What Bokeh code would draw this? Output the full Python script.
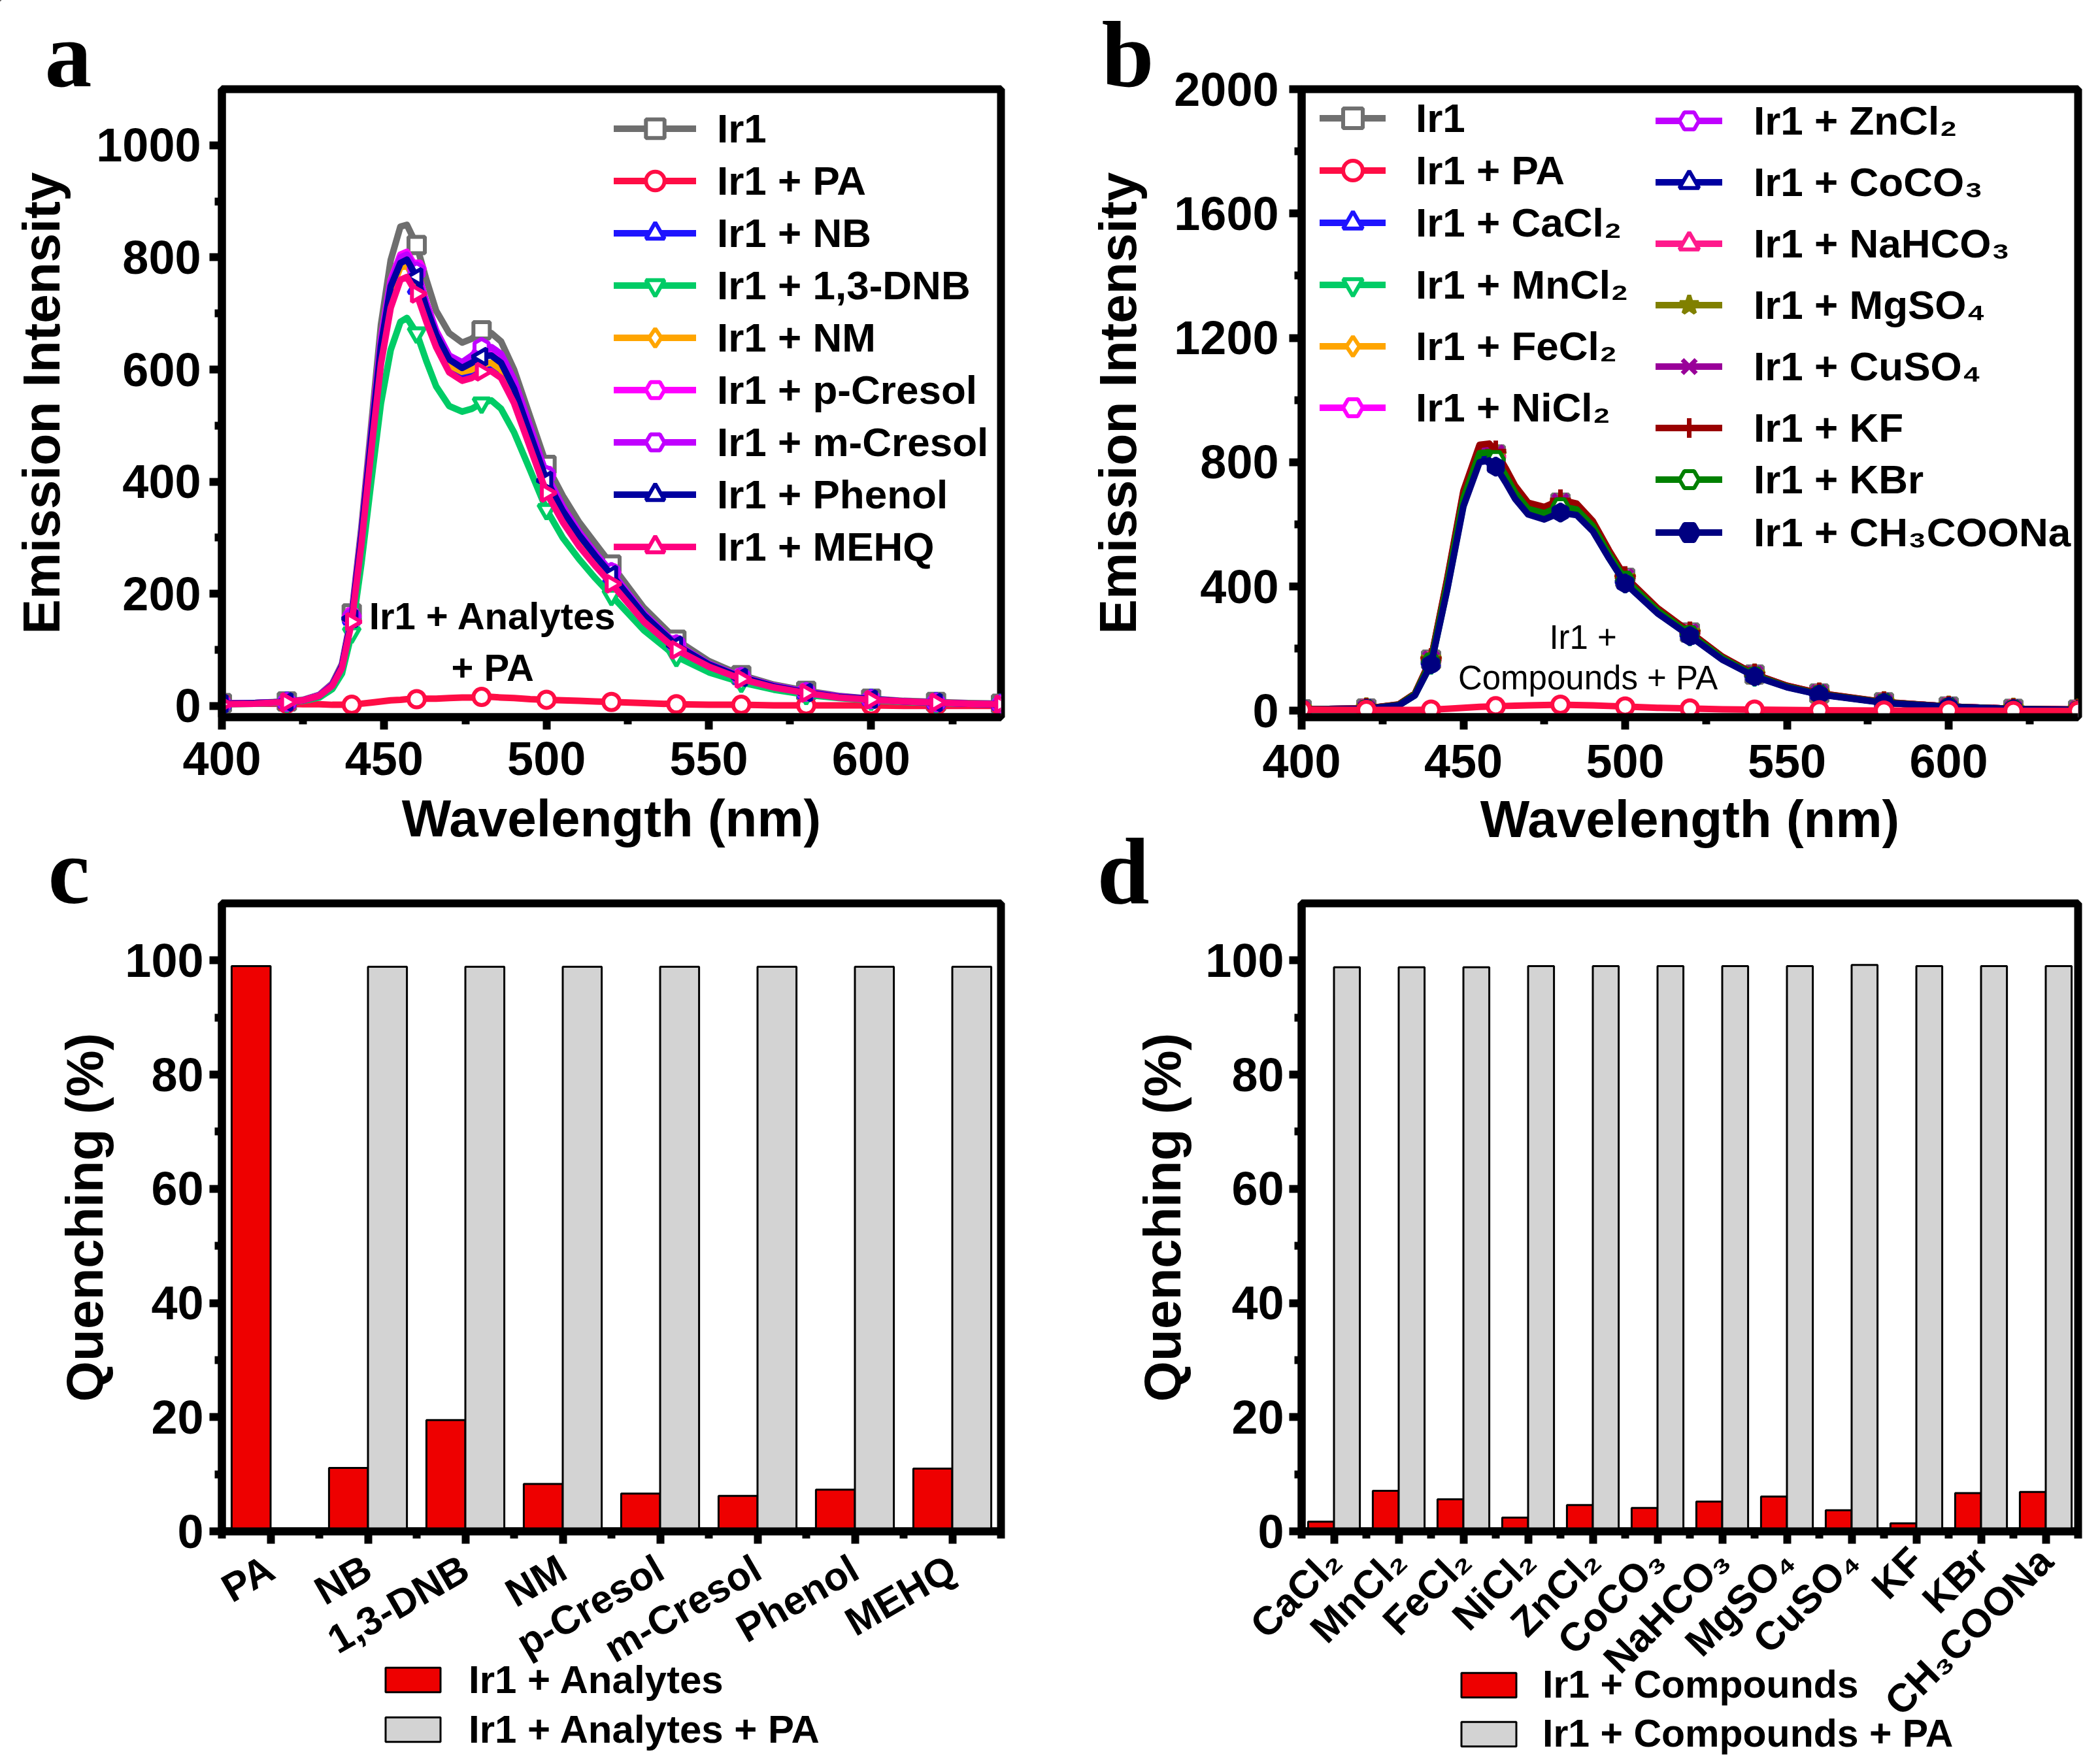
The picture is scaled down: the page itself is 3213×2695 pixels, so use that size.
import math
from bokeh.plotting import figure
from bokeh.layouts import row, column
from bokeh.models import Range1d, FixedTicker, Legend, LegendItem, Label, GridBox
from bokeh.embed import file_html
from bokeh.resources import INLINE

SANS = "Liberation Sans"
SERIF = "Liberation Serif"

# ---------------------------------------------------------------- data (a)
wl_a = [400, 410, 420, 425, 430, 434, 437, 440, 443, 446, 449, 452, 455, 457, 460, 463, 466, 470, 474, 477,
        480, 483, 486, 490, 495, 500, 505, 510, 515, 520, 530, 540, 550, 560, 570, 580, 590, 600, 610, 620,
        630, 640]
labels_a = ["Ir1", "Ir1 + PA", "Ir1 + NB", "Ir1 + 1,3-DNB", "Ir1 + NM", "Ir1 + p-Cresol",
            "Ir1 + m-Cresol", "Ir1 + Phenol", "Ir1 + MEHQ"]
ir1_a = [5, 5, 8, 11, 20, 40, 75, 165, 320, 500, 680, 795, 855, 858, 822, 760, 705, 665, 648, 655,
         670, 665, 650, 600, 515, 430, 375, 328, 290, 252, 175, 118, 80, 55, 38, 27, 18, 13, 9, 7, 5, 4]
pa_a = [5, 4, 4, 3, 3, 2, 2, 2, 4, 6, 8, 10, 11, 12, 12, 13, 13, 14, 15, 15,
        16, 16, 15, 14, 12, 11, 10, 9, 8, 7, 5, 3, 2, 2, 1, 1, 1, 1, 0, 0, 0, 0]
nb_a = [4, 5, 7, 10, 18, 37, 70, 155, 300, 470, 635, 740, 788, 790, 745, 690, 645, 600, 588, 595,
        606, 608, 595, 552, 470, 390, 338, 296, 260, 228, 158, 106, 73, 50, 34, 24, 16, 12, 8, 6, 4, 3]
dnb_a = [3, 4, 6, 9, 15, 30, 58, 130, 255, 400, 540, 635, 685, 692, 665, 615, 570, 535, 525, 530,
         540, 545, 530, 488, 420, 350, 300, 262, 228, 197, 135, 88, 60, 42, 29, 20, 14, 10, 7, 5, 4, 3]
nm_a = [4, 5, 7, 10, 18, 37, 70, 155, 300, 470, 635, 740, 782, 785, 758, 700, 650, 608, 596, 600,
        610, 612, 600, 558, 478, 398, 345, 302, 265, 232, 160, 108, 74, 51, 35, 24, 16, 12, 8, 6, 4, 3]
pcre_a = [4, 5, 7, 10, 19, 38, 72, 160, 310, 485, 655, 760, 805, 810, 780, 720, 670, 625, 612, 620,
          632, 635, 625, 580, 495, 412, 355, 310, 272, 238, 164, 110, 75, 52, 36, 25, 17, 12, 8, 6, 4, 3]
mcre_a = [4, 5, 7, 10, 19, 38, 72, 158, 308, 482, 650, 755, 800, 805, 775, 718, 668, 625, 613, 625,
          640, 640, 628, 582, 498, 412, 356, 311, 273, 239, 165, 110, 75, 52, 36, 25, 17, 12, 8, 6, 4, 3]
phen_a = [4, 5, 7, 10, 18, 37, 71, 156, 304, 476, 642, 748, 790, 796, 765, 710, 662, 618, 603, 612,
          623, 625, 612, 566, 484, 402, 348, 305, 268, 234, 162, 108, 74, 51, 35, 24, 16, 12, 8, 6, 4, 3]
mehq_a = [3, 4, 7, 10, 18, 36, 68, 150, 290, 455, 610, 710, 760, 765, 735, 685, 640, 595, 580, 585,
          596, 597, 585, 540, 460, 380, 328, 285, 250, 218, 150, 100, 70, 48, 33, 23, 15, 11, 8, 6, 4, 3]
values_a = [ir1_a, pa_a, nb_a, dnb_a, nm_a, pcre_a, mcre_a, phen_a, mehq_a]

# ---------------------------------------------------------------- data (b)
wl_b = [400, 420, 430, 435, 440, 445, 450, 455, 458, 460, 463, 466, 470, 475, 480, 485, 490, 495, 500, 510,
        520, 530, 540, 550, 560, 580, 600, 620, 640]
labels_b = ["Ir1", "Ir1 + PA", "Ir1 + CaCl\u2082", "Ir1 + MnCl\u2082", "Ir1 + FeCl\u2082", "Ir1 + NiCl\u2082",
            "Ir1 + ZnCl\u2082", "Ir1 + CoCO\u2083", "Ir1 + NaHCO\u2083", "Ir1 + MgSO\u2084", "Ir1 + CuSO\u2084",
            "Ir1 + KF", "Ir1 + KBr", "Ir1 + CH\u2083COONa"]
ir1_b = [5, 8, 20, 55, 165, 420, 700, 845, 848, 825, 772, 715, 662, 648, 670, 660, 605, 512, 428, 328,
         252, 173, 117, 80, 56, 28, 14, 7, 4]
pa_b = [4, 3, 3, 3, 4, 7, 10, 13, 14, 15, 16, 17, 18, 19, 20, 19, 18, 16, 14, 10,
        8, 5, 4, 3, 2, 1, 1, 0, 0]
cacl2_b = [4, 7, 19, 52, 158, 405, 680, 826, 830, 808, 756, 700, 648, 634, 656, 647, 594, 503, 421, 322,
           247, 169, 114, 78, 55, 27, 13, 6, 3]
mncl2_b = [4, 7, 18, 50, 150, 392, 662, 808, 812, 790, 740, 685, 634, 620, 641, 632, 580, 492, 412, 315,
           242, 166, 112, 77, 54, 27, 13, 6, 3]
fecl2_b = [4, 7, 19, 53, 160, 410, 688, 833, 836, 814, 762, 706, 653, 639, 661, 651, 598, 506, 424, 324,
           248, 170, 115, 79, 55, 27, 13, 6, 3]
nicl2_b = [5, 8, 19, 54, 162, 414, 692, 838, 842, 820, 767, 710, 657, 643, 665, 655, 601, 509, 426, 326,
           250, 171, 116, 79, 55, 28, 14, 7, 4]
zncl2_b = [5, 8, 20, 54, 163, 416, 695, 840, 844, 822, 769, 712, 659, 645, 667, 657, 603, 510, 427, 327,
           251, 172, 116, 80, 56, 28, 14, 7, 4]
coco3_b = [4, 7, 18, 51, 154, 398, 670, 815, 820, 798, 747, 692, 640, 626, 647, 638, 586, 497, 416, 318,
           244, 167, 113, 77, 54, 27, 13, 6, 3]
nahco3_b = [5, 8, 19, 53, 161, 412, 690, 836, 840, 818, 765, 708, 655, 641, 663, 653, 599, 508, 425, 325,
            249, 171, 115, 79, 55, 28, 14, 7, 4]
mgso4_b = [5, 8, 20, 55, 164, 418, 697, 842, 846, 824, 771, 714, 660, 646, 668, 658, 604, 511, 427, 327,
           251, 172, 117, 80, 56, 28, 14, 7, 4]
cuso4_b = [5, 8, 20, 55, 166, 422, 702, 848, 852, 829, 776, 718, 664, 650, 673, 662, 607, 514, 430, 329,
           253, 174, 118, 81, 57, 28, 14, 7, 4]
kf_b = [5, 8, 21, 56, 168, 426, 708, 856, 860, 836, 782, 724, 670, 656, 679, 667, 611, 517, 432, 331,
        254, 175, 118, 81, 57, 29, 14, 7, 4]
kbr_b = [4, 7, 19, 53, 159, 408, 684, 829, 832, 810, 758, 702, 650, 636, 658, 648, 595, 504, 422, 323,
         247, 170, 114, 78, 54, 27, 13, 6, 3]
ch3coona_b = [4, 7, 18, 50, 150, 390, 658, 800, 806, 786, 736, 682, 632, 616, 638, 630, 578, 491, 410, 314,
              241, 165, 111, 76, 53, 26, 13, 6, 3]
values_b = [ir1_b, pa_b, cacl2_b, mncl2_b, fecl2_b, nicl2_b, zncl2_b, coco3_b, nahco3_b, mgso4_b,
            cuso4_b, kf_b, kbr_b, ch3coona_b]

# ---------------------------------------------------------------- data (c)
cats_c = ["PA", "NB", "1,3-DNB", "NM", "p-Cresol", "m-Cresol", "Phenol", "MEHQ"]
quench_c = [99.0, 11.1, 19.5, 8.3, 6.6, 6.2, 7.3, 11.0]
quench_pa_c = [None, 98.9, 98.9, 98.9, 98.9, 98.9, 98.9, 98.9]
legend_c = ["Ir1 + Analytes", "Ir1 + Analytes + PA"]

# ---------------------------------------------------------------- data (d)
cats_d = ["CaCl\u2082", "MnCl\u2082", "FeCl\u2082", "NiCl\u2082", "ZnCl\u2082", "CoCO\u2083", "NaHCO\u2083",
          "MgSO\u2084", "CuSO\u2084", "KF", "KBr", "CH\u2083COONa"]
quench_d = [1.7, 7.1, 5.6, 2.4, 4.6, 4.1, 5.2, 6.1, 3.7, 1.4, 6.7, 6.9]
quench_pa_d = [98.8, 98.8, 98.8, 99.0, 99.0, 99.0, 99.0, 99.0, 99.2, 99.0, 99.0, 99.0]
legend_d = ["Ir1 + Compounds", "Ir1 + Compounds + PA"]

for arr in values_a:
    assert len(arr) == len(wl_a)
for arr in values_b:
    assert len(arr) == len(wl_b)

# ---------------------------------------------------------------- styles
style_a = [("#6E6E6E", "square", 0, "white"), ("#FF0D45", "circle", 0, "white"),
           ("#1E14FF", "triangle", 0, "white"), ("#00CC66", "inverted_triangle", 0, "white"),
           ("#FFA500", "diamond", 0, "white"), ("#FF00FF", "hex", 0, "white"),
           ("#C000FF", "hex", math.pi / 2, "white"), ("#0000A0", "triangle", math.pi / 2, "white"),
           ("#FF0080", "triangle", -math.pi / 2, "white")]
style_b = [("#707070", "square", 0, "white"), ("#FF0D45", "circle", 0, "white"),
           ("#1E14FF", "triangle", 0, "white"), ("#00CC66", "inverted_triangle", 0, "white"),
           ("#FFA500", "diamond", 0, "white"), ("#FF00FF", "hex", 0, "white"),
           ("#C000FF", "hex", math.pi / 2, "white"), ("#0000A0", "triangle", math.pi / 2, "white"),
           ("#FF1A8C", "triangle", -math.pi / 2, "white"), ("#808000", "star", 0, "#808000"),
           ("#990099", "x", 0, "#990099"), ("#990000", "cross", 0, "#990000"),
           ("#008000", "hex", 0, "white"), ("#000080", "hex", math.pi / 2, "#000080")]
RED = "#EE0000"
GREY = "#D3D3D3"


def make_fig(w, h, ml, mr, mt, mb, xr, yr):
    p = figure(width=w, height=h, x_range=Range1d(xr[0], xr[1]), y_range=Range1d(yr[0], yr[1]),
               output_backend="svg", toolbar_location=None,
               min_border_left=ml, min_border_right=mr, min_border_top=mt, min_border_bottom=mb)
    p.xgrid.visible = False
    p.ygrid.visible = False
    p.background_fill_color = "white"
    p.border_fill_color = "white"
    p.outline_line_color = "black"
    p.outline_line_width = 12
    p.outline_line_alpha = 1.0
    for ax in p.axis:
        ax.axis_line_color = "black"
        ax.axis_line_width = 12
        ax.major_tick_line_width = 12
        ax.minor_tick_line_width = 12
        ax.major_tick_out = 19
        ax.major_tick_in = 0
        ax.minor_tick_out = 11
        ax.minor_tick_in = 0
        ax.major_label_text_font = SANS
        ax.major_label_text_font_style = "bold"
        ax.major_label_text_font_size = "72px"
        ax.major_label_text_color = "black"
        ax.axis_label_text_font = SANS
        ax.axis_label_text_font_style = "bold"
        ax.axis_label_text_font_size = "80px"
        ax.axis_label_text_color = "black"
    return p


def spectra(p, wl, values, styles):
    rends = []
    for ys, (col, mk, ang, fill) in zip(values, styles):
        mx = [x for x in wl if x % 20 == 0]
        my = [y for x, y in zip(wl, ys) if x % 20 == 0]
        rl = p.line(wl, ys, line_width=10, line_color=col, line_join="round", line_cap="round")
        lw = 7 if mk in ("x", "cross") else 6
        sz = 32 if mk in ("x", "cross", "star") else 25
        rs = p.scatter(mx, my, marker=mk, size=sz, line_color=col, fill_color=fill, line_width=lw, angle=ang)
        rends.append([rl, rs])
    return rends


def add_legend(p, items, loc, gw, gh, sp, stand, size="62px"):
    leg = Legend(items=items, location=loc, orientation="vertical", glyph_width=gw, glyph_height=gh,
                 label_height=gh, spacing=sp, padding=0, margin=0, label_standoff=stand,
                 border_line_alpha=0, background_fill_alpha=0,
                 label_text_font=SANS, label_text_font_style="bold", label_text_font_size=size,
                 label_text_color="black")
    p.add_layout(leg)
    return leg


# ---------------------------------------------------------------- panel a
fa = make_fig(1640, 1302, 339, 109, 136, 205, (400, 640), (-20, 1100))
fa.xaxis.ticker = FixedTicker(ticks=[400, 450, 500, 550, 600], minor_ticks=[425, 475, 525, 575, 625])
fa.yaxis.ticker = FixedTicker(ticks=[0, 200, 400, 600, 800, 1000], minor_ticks=[100, 300, 500, 700, 900])
fa.xaxis.axis_label = "Wavelength (nm)"
fa.yaxis.axis_label = "Emission Intensity"
fa.xaxis.major_label_standoff = 19
fa.xaxis.axis_label_standoff = 19
fa.yaxis.major_label_standoff = 13
fa.yaxis.axis_label_standoff = 36
ra = spectra(fa, wl_a, values_a, style_a)
add_legend(fa, [LegendItem(label=l, renderers=r) for l, r in zip(labels_a, ra)], (600, 225), 126, 71, 9, 32)
fa.add_layout(Label(x=483.5, y=160.6, text="Ir1 + Analytes", text_font=SANS, text_font_style="bold",
                    text_font_size="58px", text_align="center", text_baseline="middle", text_color="black"))
fa.add_layout(Label(x=483.4, y=68.8, text="+ PA", text_font=SANS, text_font_style="bold",
                    text_font_size="58px", text_align="center", text_baseline="middle", text_color="black"))

# ---------------------------------------------------------------- panel b
fb = make_fig(1572, 1302, 351, 28, 136, 205, (400, 640), (-20, 2000))
fb.xaxis.ticker = FixedTicker(ticks=[400, 450, 500, 550, 600], minor_ticks=[425, 475, 525, 575, 625])
fb.yaxis.ticker = FixedTicker(ticks=[0, 400, 800, 1200, 1600, 2000], minor_ticks=[200, 600, 1000, 1400, 1800])
fb.xaxis.axis_label = "Wavelength (nm)"
fb.yaxis.axis_label = "Emission Intensity"
fb.xaxis.major_label_standoff = 23
fb.xaxis.axis_label_standoff = 16
fb.yaxis.major_label_standoff = 16
fb.yaxis.axis_label_standoff = 38
order_b = [0] + list(range(2, 14)) + [1]
rb_sorted = spectra(fb, wl_b, [values_b[i] for i in order_b], [style_b[i] for i in order_b])
rb = [None] * 14
for k, i in enumerate(order_b):
    rb[i] = rb_sorted[k]
items_b = [LegendItem(label=l, renderers=r) for l, r in zip(labels_b, rb)]
add_legend(fb, items_b[0:3], (28, 719), 101, 75, 5, 46)
add_legend(fb, items_b[3:6], (28, 436), 101, 75, 19, 46)
add_legend(fb, items_b[6:12], (542, 405), 102, 75, 19, 48)
add_legend(fb, items_b[12:14], (542, 245), 102, 75, 6, 48)
fb.add_layout(Label(x=487.0, y=236.0, text="Ir1 +", text_font=SANS, text_font_size="51px",
                    text_align="center", text_baseline="middle", text_color="black"))
fb.add_layout(Label(x=488.5, y=106.0, text="Compounds + PA", text_font=SANS, text_font_size="51px",
                    text_align="center", text_baseline="middle", text_color="black"))


# ---------------------------------------------------------------- bars
def bars(p, cats, red, grey):
    n = len(cats)
    xs = list(range(n))
    p.xaxis.ticker = FixedTicker(ticks=xs, minor_ticks=[i + 0.5 for i in range(-1, n)])
    p.xaxis.major_label_overrides = {i: c for i, c in zip(xs, cats)}
    p.yaxis.ticker = FixedTicker(ticks=[0, 20, 40, 60, 80, 100], minor_ticks=[10, 30, 50, 70, 90])
    p.yaxis.axis_label = "Quenching (%)"
    p.xaxis.major_label_text_font_size = "61px"
    p.vbar(x=[i - 0.2 for i in xs], width=0.4, top=red, bottom=0, fill_color=RED,
           line_color="black", line_width=3)
    gx = [i + 0.2 for i, v in zip(xs, grey) if v is not None]
    gv = [v for v in grey if v is not None]
    p.vbar(x=gx, width=0.4, top=gv, bottom=0, fill_color=GREY, line_color="black", line_width=3)


fc = make_fig(1640, 1392, 335, 107, 80, 351, (-0.5, 7.5), (0, 110))
bars(fc, cats_c, quench_c, quench_pa_c)
fc.xaxis.major_label_orientation = math.pi / 6
fc.xaxis.major_label_standoff = 33
fc.yaxis.major_label_standoff = 9
fc.yaxis.axis_label_standoff = 14

fd = make_fig(1572, 1392, 345, 33, 80, 351, (-0.5, 11.5), (0, 110))
bars(fd, cats_d, quench_d, quench_pa_d)
fd.xaxis.major_label_orientation = math.pi / 4
fd.xaxis.major_label_standoff = 16
fd.yaxis.major_label_standoff = 8
fd.yaxis.axis_label_standoff = 18

main = row(column(fa, fc), column(fb, fd))

# ---------------------------------------------------------------- overlay (panel letters, bar legends)
OW, OH = 3212, 2694
ov = figure(width=OW, height=OH, x_range=Range1d(0, OW), y_range=Range1d(OH, 0),
            x_axis_type=None, y_axis_type=None, min_border=0, output_backend="svg", toolbar_location=None)
ov.outline_line_color = None
ov.background_fill_color = None
ov.border_fill_color = None
ov.grid.visible = False
for t, x, y in [("a", 68, 83), ("b", 1685, 83), ("c", 73, 1333), ("d", 1678, 1333)]:
    ov.add_layout(Label(x=x, y=y, text=t, text_font=SERIF, text_font_style="bold", text_font_size="144px",
                        text_color="black", text_align="left", text_baseline="alphabetic"))
# legend samples (kept outside the visible range; only their legend glyphs show)
s_red = ov.vbar(x=[-500], top=[-500], bottom=[-600], width=10, fill_color=RED, line_color="black", line_width=3)
s_grey = ov.vbar(x=[-500], top=[-500], bottom=[-600], width=10, fill_color=GREY, line_color="black", line_width=3)
add_legend(ov, [LegendItem(label=legend_c[0], renderers=[s_red]), LegendItem(label=legend_c[1], renderers=[s_grey])],
           (579, 13), 105, 47, 7, 33, size="60px")
add_legend(ov, [LegendItem(label=legend_d[0], renderers=[s_red]), LegendItem(label=legend_d[1], renderers=[s_grey])],
           (2225, 7), 105, 47, 7, 30, size="59px")

layout = GridBox(children=[(main, 0, 0), (ov, 0, 0)])
open("out.html", "w").write(file_html(layout, INLINE))
